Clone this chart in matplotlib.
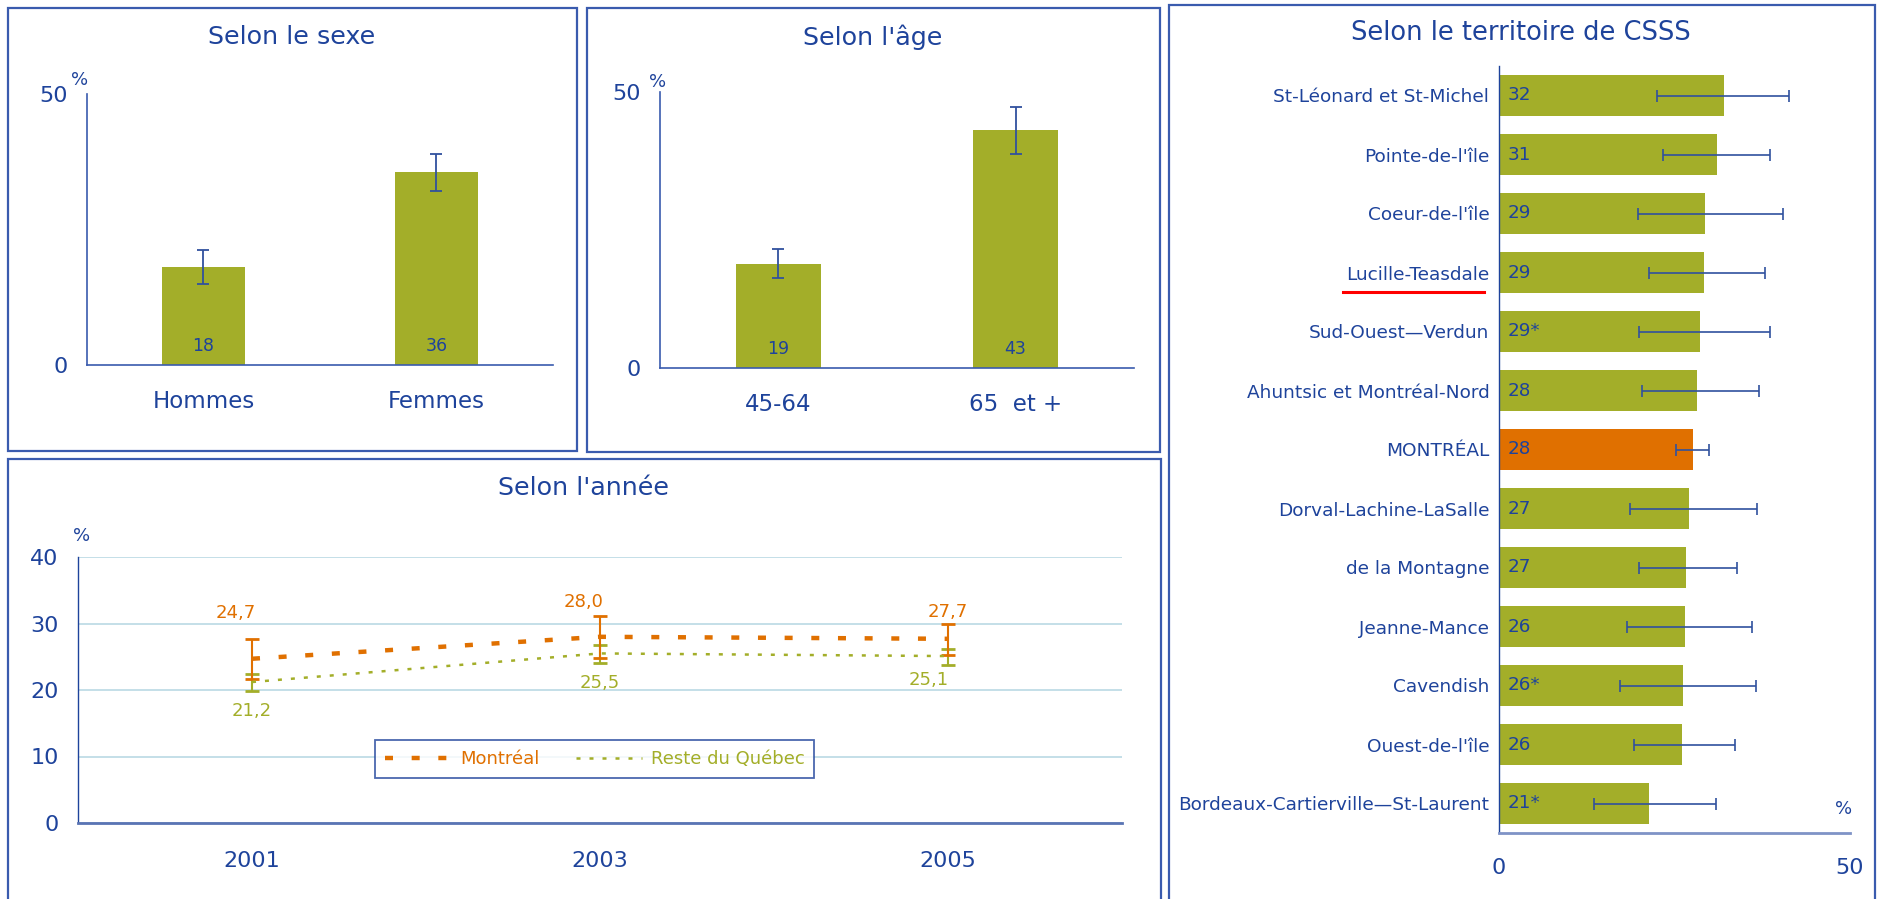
import matplotlib
matplotlib.use("Agg")
import matplotlib.pyplot as plt
from matplotlib.patches import Rectangle
from matplotlib.lines import Line2D
from matplotlib.transforms import IdentityTransform

plt.rcParams['font.family'] = ['DejaVu Sans']

# ---------------- data ----------------
sexe_cats = ['Hommes', 'Femmes']
sexe_vals = [18.1, 35.6]
sexe_lo = [14.9, 32.1]
sexe_hi = [21.2, 38.9]

age_cats = ['45-64', '65  et +']
age_vals = [18.8, 43.1]
age_lo = [16.3, 38.8]
age_hi = [21.6, 47.3]

years = ['2001', '2003', '2005']
mtl_vals = [24.7, 28.0, 27.7]
mtl_lo = [21.7, 24.8, 25.3]
mtl_hi = [27.7, 31.1, 29.9]
rq_vals = [21.2, 25.5, 25.1]
rq_lo = [19.9, 24.1, 23.8]
rq_hi = [22.4, 26.8, 26.2]

csss_names = ['St-Léonard et St-Michel', "Pointe-de-l'île", "Coeur-de-l'île",
              'Lucille-Teasdale', 'Sud-Ouest—Verdun', 'Ahuntsic et Montréal-Nord',
              'MONTRÉAL', 'Dorval-Lachine-LaSalle', 'de la Montagne', 'Jeanne-Mance',
              'Cavendish', "Ouest-de-l'île", 'Bordeaux-Cartierville—St-Laurent']
csss_vals = [32.0, 31.1, 29.3, 29.2, 28.6, 28.2, 27.6, 27.0, 26.6, 26.5, 26.2, 26.0, 21.3]
csss_labels = ['32', '31', '29', '29', '29*', '28', '28', '27', '27', '26', '26*', '26', '21*']
csss_lo = [22.5, 23.3, 19.8, 21.4, 19.9, 20.3, 25.2, 18.6, 20.0, 18.2, 17.3, 19.3, 13.5]
csss_hi = [41.3, 38.6, 40.4, 37.9, 38.6, 37.0, 29.9, 36.8, 33.9, 36.1, 36.6, 33.6, 30.9]

# ---------------- style ----------------
OLIVE = '#A3AE29'
ORANGE = '#E07000'
BLUE = '#1E439B'
BOX = '#3A5BAE'
GRID = '#C4DFE8'
ERR = '#30519E'
AXIS2 = '#7F93C6'

W, H = 1881, 899
fig = plt.figure(figsize=(W / 100, H / 100), dpi=100)
fig.patch.set_facecolor('white')


def rect(x0, y0, x1, y1):
    return [x0 / W, 1 - y1 / H, (x1 - x0) / W, (y1 - y0) / H]


def box(x0, y0, x1, y1):
    fig.add_artist(Rectangle((x0 / W, 1 - y1 / H), (x1 - x0) / W, (y1 - y0) / H,
                             transform=fig.transFigure, fill=False,
                             edgecolor=BOX, linewidth=1.6, zorder=0))


def title(x, y, s, size=18.3):
    fig.text(x / W, 1 - y / H, s, ha='center', va='center', color=BLUE, fontsize=size)


# panel frames
box(8, 8, 577, 451)
box(587, 8, 1160, 452)
box(8, 459, 1161, 910)
box(1169, 5, 1875, 910)

title(292, 37, 'Selon le sexe')
title(873, 37, "Selon l'âge")
title(584, 488, "Selon l'année")
title(1521, 33, 'Selon le territoire de CSSS', 18.5)


def vbar_panel(ax, cats, vals, lo, hi):
    x = list(range(len(cats)))
    ax.bar(x, vals, width=0.36, color=OLIVE, zorder=2)
    yerr = [[v - l for v, l in zip(vals, lo)], [h - v for v, h in zip(vals, hi)]]
    ax.errorbar(x, vals, yerr=yerr, fmt='none', ecolor=ERR, elinewidth=1.3,
                capsize=4.4, capthick=1.3, zorder=3)
    for xi, v in zip(x, vals):
        ax.annotate(f'{round(v)}', xy=(xi, 0), xytext=(0, 14), textcoords='offset points',
                    ha='center', va='center', color=BLUE, fontsize=12.5, zorder=4)
    ax.set_xlim(-0.5, 1.5)
    ax.set_ylim(0, 50)
    ax.set_xticks(x)
    ax.set_xticklabels(cats)
    ax.set_yticks([0, 50])
    for s in ['top', 'right']:
        ax.spines[s].set_visible(False)
    for s in ['left', 'bottom']:
        ax.spines[s].set_color(BOX)
        ax.spines[s].set_linewidth(1.2)
    ax.tick_params(axis='y', length=0, pad=14, labelsize=16, labelcolor=BLUE)
    ax.tick_params(axis='x', length=0, pad=18, labelsize=16.5, labelcolor=BLUE)
    ax.set_facecolor('none')


# ---------------- panel 1: sexe ----------------
ax1 = fig.add_axes(rect(87, 94, 553, 365))
vbar_panel(ax1, sexe_cats, sexe_vals, sexe_lo, sexe_hi)
ax1.text(-0.015, 1.05, '%', transform=ax1.transAxes, ha='center', va='center',
         color=BLUE, fontsize=13)

# ---------------- panel 2: âge ----------------
ax2 = fig.add_axes(rect(660, 92, 1134, 368))
vbar_panel(ax2, age_cats, age_vals, age_lo, age_hi)
ax2.text(-0.006, 1.036, '%', transform=ax2.transAxes, ha='center', va='center',
         color=BLUE, fontsize=13)

# ---------------- panel 3: année ----------------
ax3 = fig.add_axes(rect(78, 557, 1122, 823))
xs = list(range(len(years)))
ax3.set_xlim(-0.5, 2.5)
ax3.set_ylim(0, 40)
ax3.set_yticks([0, 10, 20, 30, 40])
ax3.set_xticks(xs)
ax3.set_xticklabels(years)
ax3.yaxis.grid(True, color=GRID, linewidth=1.4, zorder=0)
ax3.set_axisbelow(True)
for s in ['top', 'right']:
    ax3.spines[s].set_visible(False)
ax3.spines['left'].set_color(BLUE)
ax3.spines['left'].set_linewidth(1.0)
ax3.spines['bottom'].set_color('#5A74B4')
ax3.spines['bottom'].set_linewidth(2.0)
ax3.tick_params(axis='y', length=0, pad=14, labelsize=16, labelcolor=BLUE)
ax3.tick_params(axis='x', length=0, pad=20, labelsize=16, labelcolor=BLUE)

ax3.errorbar(xs, rq_vals, yerr=[[v - l for v, l in zip(rq_vals, rq_lo)],
                                [h - v for v, h in zip(rq_vals, rq_hi)]],
             fmt='none', ecolor=OLIVE, elinewidth=1.5, capsize=4.7, capthick=2, zorder=3)
ax3.errorbar(xs, mtl_vals, yerr=[[v - l for v, l in zip(mtl_vals, mtl_lo)],
                                 [h - v for v, h in zip(mtl_vals, mtl_hi)]],
             fmt='none', ecolor=ORANGE, elinewidth=1.5, capsize=4.7, capthick=2, zorder=3)
l_mtl, = ax3.plot(xs, mtl_vals, color=ORANGE, linewidth=3.2, dashes=(1.8, 4.2),
                  label='Montréal', zorder=4)
l_rq, = ax3.plot(xs, rq_vals, color=OLIVE, linewidth=1.8, dashes=(1.6, 3.6),
                 label='Reste du Québec', zorder=4)

mtl_off = [(-12, 33), (-12, 25), (0, 19)]
rq_off = [(0, -21), (0, -21), (-14, -17)]
for xi, v, off in zip(xs, mtl_vals, mtl_off):
    ax3.annotate(f'{v:.1f}'.replace('.', ','), xy=(xi, v), xytext=off,
                 textcoords='offset points', ha='center', va='center',
                 color=ORANGE, fontsize=13)
for xi, v, off in zip(xs, rq_vals, rq_off):
    ax3.annotate(f'{v:.1f}'.replace('.', ','), xy=(xi, v), xytext=off,
                 textcoords='offset points', ha='center', va='center',
                 color=OLIVE, fontsize=13)
ax3.text(0.003, 1.08, '%', transform=ax3.transAxes, ha='center', va='center',
         color=BLUE, fontsize=13)

leg = ax3.legend(handles=[l_mtl, l_rq], loc='center', bbox_to_anchor=(0.495, 0.239),
                 ncol=2, fontsize=13, frameon=True, fancybox=False,
                 handlelength=3.7, handletextpad=0.45, columnspacing=2.0,
                 borderpad=0.55, borderaxespad=0)
leg.get_frame().set_edgecolor(BLUE)
leg.get_frame().set_linewidth(1.3)
for t, c in zip(leg.get_texts(), [ORANGE, OLIVE]):
    t.set_color(c)

# ---------------- panel 4: CSSS ----------------
ax4 = fig.add_axes(rect(1499, 66, 1850, 833))
ys = list(range(len(csss_names)))
colors = [ORANGE if n == 'MONTRÉAL' else OLIVE for n in csss_names]
ax4.barh(ys, csss_vals, height=0.68, color=colors, zorder=2)
ax4.errorbar(csss_vals, ys, xerr=[[v - l for v, l in zip(csss_vals, csss_lo)],
                                  [h - v for v, h in zip(csss_vals, csss_hi)]],
             fmt='none', ecolor=ERR, elinewidth=1.2, capsize=4, capthick=1.2, zorder=3)
for yi, lab in zip(ys, csss_labels):
    ax4.annotate(lab, xy=(0, yi), xytext=(6, 0), textcoords='offset points',
                 ha='left', va='center', color=BLUE, fontsize=13.2, zorder=4)
ax4.set_xlim(0, 50)
ax4.set_ylim(len(csss_names) - 0.5, -0.5)
ax4.set_yticks(ys)
ax4.set_yticklabels(csss_names)
ax4.set_xticks([0, 50])
for s in ['top', 'right']:
    ax4.spines[s].set_visible(False)
ax4.spines['left'].set_color(BLUE)
ax4.spines['left'].set_linewidth(1.0)
ax4.spines['bottom'].set_color(AXIS2)
ax4.spines['bottom'].set_linewidth(2.0)
ax4.tick_params(axis='y', length=0, pad=7, labelsize=13.3, labelcolor=BLUE)
ax4.tick_params(axis='x', length=0, pad=18, labelsize=16, labelcolor=BLUE)
ax4.text(0.983, 0.031, '%', transform=ax4.transAxes, ha='center', va='center',
         color=BLUE, fontsize=13)

# red underline under the highlighted territory
fig.canvas.draw()
renderer = fig.canvas.get_renderer()
for lab in ax4.get_yticklabels():
    if lab.get_text() == 'Lucille-Teasdale':
        bb = lab.get_window_extent(renderer)
        yc = (bb.y0 + bb.y1) / 2 - 17
        fig.add_artist(Line2D([bb.x0 - 3, bb.x1 - 5], [yc, yc], transform=IdentityTransform(),
                              color='#FF0000', linewidth=2.2))

fig.savefig('out.png', dpi=100, facecolor='white')
